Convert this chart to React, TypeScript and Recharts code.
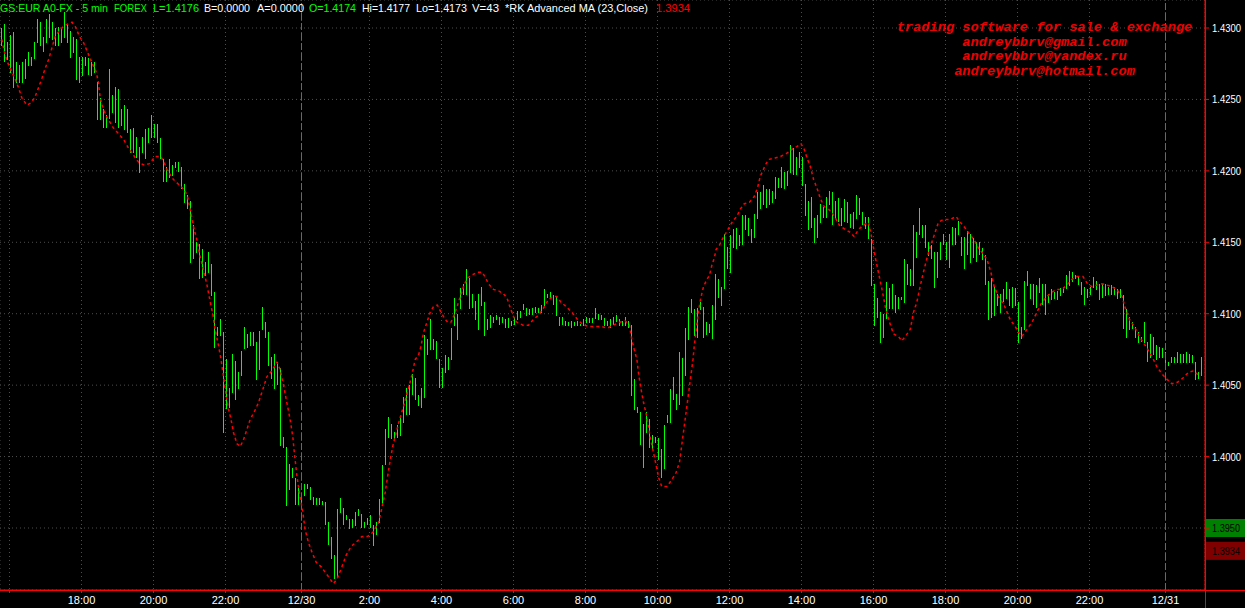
import React from 'react';
import { ComposedChart, Bar, Scatter, XAxis, YAxis, CartesianGrid, ReferenceLine } from 'recharts';

// ---- values (pips above 1.3900) ----
const BASE_PRICE = 1.39;
const PIP = 0.0001;

const barHighPips = [
  400,403,390,395,397,376,374,376,378,383,
  380,390,406,404,394,406,410,404,400,401,
  399,411,402,398,394,392,380,380,380,379,
  376,376,362,351,343,339,371,353,359,357,
  343,346,343,329,330,324,317,324,329,330,
  339,333,333,323,308,303,308,304,306,306,
  303,291,283,279,262,250,249,245,236,243,
  235,215,191,196,187,168,148,172,167,159,
  174,191,186,187,187,180,188,205,194,187,
  170,172,166,162,114,107,95,92,85,78,
  74,81,81,79,72,71,71,69,68,54,
  44,31,63,71,64,59,56,56,61,63,
  60,54,57,59,52,54,70,94,119,128,
  123,117,122,128,142,148,150,158,155,143,
  148,185,182,196,182,181,168,162,171,170,
  190,211,200,218,221,231,225,214,209,214,
  219,208,196,199,198,199,198,198,196,197,
  195,198,202,202,207,204,203,204,205,204,
  206,217,214,215,213,212,198,198,195,194,
  195,194,195,193,196,198,197,197,204,200,
  199,197,195,196,198,199,196,195,198,195,
  192,154,135,131,123,131,126,115,114,113,
  105,122,129,147,156,144,173,169,190,205,
  210,203,204,208,205,194,193,206,228,224,
  219,256,247,255,259,260,255,269,269,267,
  259,270,285,285,290,287,287,286,296,295,
  303,299,300,318,316,310,313,310,291,279,
  282,267,269,277,275,282,286,285,279,281,
  274,280,278,270,271,283,281,271,268,268,
  252,221,211,201,200,222,218,221,213,212,
  212,238,235,231,262,257,274,262,262,250,
  248,243,243,250,256,250,256,261,260,265,
  254,254,258,256,253,250,250,246,241,223,
  225,219,214,214,217,222,217,219,218,208,
  191,223,230,221,221,220,225,221,221,214,
  217,215,216,218,219,227,230,229,227,226,
  222,219,217,219,226,223,221,221,221,219,
  220,219,217,217,213,203,198,194,191,187,
  184,194,180,186,184,178,177,176,173,166,
  170,170,173,172,172,173,172,171,166,159,
  170,
];

const barLowPips = [
  388,377,378,369,359,362,362,362,365,374,
  374,379,390,388,384,390,394,392,388,388,
  390,394,390,380,383,364,362,367,374,368,
  367,369,336,336,331,331,337,341,334,331,
  332,329,327,313,313,310,299,313,309,320,
  324,324,320,309,293,293,296,297,303,300,
  288,278,274,236,239,243,225,226,227,229,
  213,177,185,185,117,134,135,145,140,148,
  157,176,177,178,178,154,161,189,184,164,
  155,148,151,108,107,66,77,86,67,67,
  67,73,78,70,67,67,67,67,53,39,
  29,15,16,61,53,56,50,51,52,59,
  51,51,53,51,38,46,54,67,95,114,
  113,112,114,115,124,130,130,144,140,136,
  135,142,172,175,175,169,149,149,159,161,
  168,192,182,204,214,214,204,205,196,189,
  206,185,189,191,194,196,193,194,191,191,
  192,193,196,198,203,199,200,200,201,201,
  201,206,212,211,207,199,192,193,192,192,
  191,192,192,192,192,194,194,194,197,196,
  196,192,192,191,193,195,192,192,192,191,
  143,133,131,109,93,117,107,105,110,98,
  86,92,124,124,140,133,137,143,157,182,
  201,185,184,203,184,186,187,183,196,212,
  206,218,232,229,247,246,248,249,259,255,
  250,254,267,274,277,275,277,278,281,289,
  289,288,290,299,298,298,303,290,269,259,
  261,250,254,264,268,268,277,263,267,265,
  262,265,264,261,260,267,270,263,260,253,
  220,192,198,180,184,197,204,204,201,204,
  210,208,221,220,220,240,256,254,247,241,
  239,219,226,238,249,238,233,249,249,256,
  241,232,242,236,240,237,242,238,221,196,
  198,199,206,201,209,211,206,205,206,180,
  183,189,220,211,207,205,215,207,200,208,
  210,211,210,213,215,218,220,223,225,221,
  214,207,212,214,219,217,210,212,213,214,
  214,214,211,212,190,184,189,190,184,180,
  181,180,167,170,172,168,170,170,164,164,
  166,166,166,166,166,166,166,166,154,155,
  157,
];

// Moving average (RK Advanced MA 23) read at points along the dashed line: bar position, pips
const maIndex = [
  0.1,1.0,2.0,3.1,4.6,5.7,6.8,8.5,10.1,11.2,12.3,13.5,14.6,15.7,16.8,17.9,19.6,21.2,23.5,24.6,
  26.0,27.3,28.7,30.1,31.6,32.3,32.9,34.0,35.3,37.3,39.0,40.7,42.3,44.0,45.7,47.6,49.3,51.2,
  53.1,54.2,55.1,57.3,59.3,60.9,62.0,62.9,64.0,65.1,66.2,67.3,68.5,69.6,70.5,71.2,72.3,73.1,73.8,74.6,
  75.5,76.5,77.3,78.5,79.6,80.7,81.8,82.9,84.2,85.7,87.1,88.5,90.1,91.8,92.9,94.0,95.1,96.2,97.1,97.6,
  98.5,99.3,100.5,101.2,102.3,103.5,104.9,106.5,107.9,109.3,110.7,112.0,113.5,114.9,116.5,118.2,120.1,122.0,123.8,125.7,
  126.8,127.9,128.7,129.6,130.5,131.6,132.7,134.0,135.3,136.8,137.9,139.0,
  139.8,140.7,141.8,142.9,144.0,145.3,146.5,147.6,148.7,149.8,150.9,152.0,153.1,154.0,155.3,156.8,158.5,160.1,161.2,162.3,
  164.0,165.7,167.3,168.5,169.6,170.7,171.8,173.8,175.7,177.3,179.0,
  180.7,182.3,184.0,185.1,186.5,188.2,190.1,192.0,194.0,196.2,198.5,200.1,202.0,204.0,206.0,207.9,209.3,210.1,210.9,211.8,
  212.3,213.1,214.0,215.1,216.2,217.3,218.2,219.1,220.1,221.8,223.5,224.9,226.0,
  230.5,230.9,231.6,232.3,233.1,234.0,234.9,236.0,236.8,237.6,238.2,239.3,240.5,241.6,242.7,243.8,245.1,246.2,247.6,249.3,
  250.9,252.0,252.9,254.6,255.7,257.9,259.6,261.6,263.5,265.1,266.5,267.6,268.5,269.6,270.7,271.8,272.9,274.2,275.7,276.8,
  278.2,279.3,
  281.2,282.9,284.2,285.7,287.3,289.0,290.1,291.2,292.3,293.5,294.6,295.7,297.3,299.0,300.1,301.6,302.9,304.0,305.1,306.2,
  307.3,308.5,309.6,310.9,312.3,314.0,316.2,318.2,319.6,321.2,322.9,324.2,325.3,326.8,328.5,329.8,330.9,332.3,334.2,336.2,
  337.9,339.0,
  340.1,341.8,343.5,345.1,346.8,348.5,350.1,351.8,353.5,355.1,356.8,358.5,360.5,362.0,363.5,365.1,366.8,368.5,370.1,371.8,
  373.5,374.6,376.0,377.6,379.6,381.8,383.5,385.1,386.8,388.5,390.1,392.0,393.8,395.7,397.3,399.0,
];

const maPips = [
  392,383,376,371,364,358,351,346,348,352,358,365,372,378,386,394,399,402,404,401,
  394,390,383,376,369,362,351,343,337,330,326,322,316,311,306,304,305,310,
  310,306,301,294,290,287,282,273,261,252,240,231,220,208,199,189,178,169,159,147,
  135,126,117,109,107,112,119,126,131,138,147,156,160,166,161,150,138,126,114,103,
  86,75,60,49,40,33,26,23,19,15,11,15,23,31,37,40,44,44,47,54,
  64,75,86,98,108,117,126,135,145,157,168,171,
  177,187,194,201,205,206,201,197,194,194,199,206,213,219,225,227,229,229,226,221,
  217,216,214,211,204,198,194,192,192,196,199,
  204,210,212,212,208,205,201,196,192,191,191,191,190,192,194,195,192,182,175,168,
  159,148,138,128,114,103,94,85,79,79,84,89,96,
  168,177,189,201,211,219,223,227,234,239,245,248,253,257,261,265,268,273,277,278,
  282,288,296,304,308,309,310,312,315,317,319,315,309,303,294,288,281,275,273,271,
  266,262,
  259,257,254,259,262,264,253,240,229,217,205,196,186,184,181,185,189,201,208,219,
  229,239,247,255,264,266,266,268,264,260,255,252,247,243,238,229,219,212,206,196,
  191,187,
  184,189,194,201,208,212,215,217,217,220,224,226,226,221,219,220,221,220,219,217,
  212,204,196,191,183,176,170,163,158,154,151,152,155,159,160,157,
];

// time axis: bar position of each time label
const timeTickIndex = [2.67, 26.67, 50.67, 74.67, 100, 122.67, 146.67, 170.67, 194.67, 218.67, 242.67, 266.67, 290.67, 314.67, 338.67, 362.67, 388];
const timeTickLabels = ['', '18:00', '20:00', '22:00', '12/30', '2:00', '4:00', '6:00', '8:00', '10:00', '12:00', '14:00', '16:00', '18:00', '20:00', '22:00', '12/31'];
const dayBreakIndex = [100, 388];

const priceTicks = [1.395, 1.4, 1.405, 1.41, 1.415, 1.42, 1.425, 1.43];
const priceDomain = [1.39066, 1.43196];
const indexDomain = [-0.5, 401.1667];

const markerPrices = [1.395, 1.3934];

const headerTexts = ['GS:EUR A0-FX - 5 min', 'FOREX', 'L=1.4176', 'B=0.0000', 'A=0.0000', 'O=1.4174', 'Hi=1.4177', 'Lo=1.4173', 'V=43', '*RK Advanced MA (23,Close)', '1.3934'];
const watermarkLines = ['trading software for sale & exchange', 'andreybbrv@gmail.com', 'andreybbrv@yandex.ru', 'andreybbrv@hotmail.com'];

// ---- styles / layout ----
const headerLeft = [0, 114, 153, 204, 257, 309, 362, 416, 472, 505, 656];
const headerWidth = [108, 33, 46, 46, 47, 47, 48, 51, 27, 143, 34];
const headerColor = ['#00ff00', '#00ff00', '#00ff00', '#ffffff', '#ffffff', '#00ff00', '#ffffff', '#ffffff', '#ffffff', '#ffffff', '#ff0000'];
const markerFill = ['#008000', '#800000'];

const toPrice = (p: number) => Math.round((BASE_PRICE + p * PIP) * 100000) / 100000;

const nBars = Math.min(barHighPips.length, barLowPips.length);
const barRows = Array.from({ length: nBars }, (_, i) => ({
  idx: i,
  range: [toPrice(barLowPips[i]), toPrice(barHighPips[i])],
}));
const nMa = Math.min(maIndex.length, maPips.length);
const maRows = Array.from({ length: nMa }, (_, j) => ({ t: maIndex[j], ma: toPrice(maPips[j]) }));

const SANS = '"Liberation Sans", Arial, sans-serif';

const OhlcShape = (props: any) => {
  const { x, y, width, height } = props;
  if (![x, y, width, height].every((v) => typeof v === 'number' && isFinite(v))) return <g />;
  const cx = Math.floor(x + width / 2) + 0.5;
  const top = Math.min(y, y + height);
  const bottom = Math.max(y, y + height);
  return <line x1={cx} x2={cx} y1={top} y2={bottom + 1} stroke="#00ff00" strokeWidth={1} shapeRendering="crispEdges" />;
};

const TimeTick = (props: any) => {
  const { x, y, payload } = props;
  const i = timeTickIndex.indexOf(payload.value);
  const label = i >= 0 ? timeTickLabels[i] : '';
  return (
    <text x={x} y={y} dy={9} textAnchor="middle" fill="#ffffff" fontSize={11} fontFamily={SANS}>
      {label}
    </text>
  );
};

const PriceTick = (props: any) => {
  const { x, y, payload } = props;
  if (payload.value === markerPrices[0]) return <g />;
  return (
    <text x={x} y={y} dy={4} textAnchor="start" fill="#ffffff" fontSize={10.5} fontFamily={SANS} textLength={29} lengthAdjust="spacingAndGlyphs">
      {Number(payload.value).toFixed(4)}
    </text>
  );
};

const PriceTag = (props: any) => {
  const { viewBox, text, fill } = props;
  if (!viewBox) return null;
  const right = viewBox.x + viewBox.width;
  const y = viewBox.y;
  return (
    <g>
      <rect x={right + 1} y={y - 9} width={39} height={18} fill={fill} />
      <text x={right + 7} y={y + 4} fill="#000000" fontSize={10.5} fontFamily={SANS} textLength={28} lengthAdjust="spacingAndGlyphs">
        {text}
      </text>
    </g>
  );
};

export default function App() {
  return (
    <div style={{ position: 'absolute', left: 0, top: 0, width: 1245, height: 608, background: '#000', overflow: 'hidden' }}>
      <ComposedChart width={1245} height={608} data={barRows} margin={{ top: 0, right: 0, bottom: 0, left: 0 }}>
        <CartesianGrid xAxisId="time" stroke="#4d4d4d" strokeDasharray="1 3" />
        <XAxis xAxisId="bars" dataKey="idx" type="category" hide orientation="top" height={0} padding={{ left: 0, right: 2 }} />
        <XAxis
          xAxisId="time"
          dataKey="t"
          type="number"
          orientation="bottom"
          domain={indexDomain}
          allowDataOverflow
          ticks={timeTickIndex}
          interval={0}
          height={18}
          axisLine={{ stroke: '#ff0000' }}
          tickLine={{ stroke: '#ff0000' }}
          tickSize={3}
          tick={<TimeTick />}
        />
        <YAxis
          orientation="right"
          type="number"
          width={40}
          domain={priceDomain}
          allowDataOverflow
          ticks={priceTicks}
          interval={0}
          axisLine={{ stroke: '#ff0000' }}
          tickLine={{ stroke: '#ff0000' }}
          tickSize={4}
          tickMargin={3}
          tick={<PriceTick />}
        />
        {dayBreakIndex.map((d) => (
          <ReferenceLine key={d} xAxisId="time" x={d} stroke="#6a6a6a" strokeDasharray="7 3" />
        ))}
        <Bar xAxisId="bars" dataKey="range" isAnimationActive={false} shape={(p: any) => <OhlcShape {...p} />} />
        <Scatter
          xAxisId="time"
          data={maRows}
          dataKey="ma"
          isAnimationActive={false}
          line={{ stroke: '#ff0000', strokeWidth: 1.5, strokeDasharray: '3 3' }}
          lineType="joint"
          shape={() => <g />}
        />
        {markerPrices.map((p, i) => (
          <ReferenceLine
            key={p}
            xAxisId="time"
            y={p}
            stroke="none"
            ifOverflow="visible"
            label={<PriceTag text={p.toFixed(4)} fill={markerFill[i]} />}
          />
        ))}
      </ComposedChart>

      {/* axis lines extended across the full frame */}
      <div style={{ position: 'absolute', left: 0, top: 590, width: 1245, height: 1, background: '#ff0000' }} />
      <div style={{ position: 'absolute', left: 1205, top: 0, width: 1, height: 608, background: '#ff0000' }} />

      {/* header */}
      <svg width={700} height={16} style={{ position: 'absolute', left: 0, top: 0 }}>
        {headerTexts.map((t, i) => (
          <text
            key={i}
            x={headerLeft[i]}
            y={12}
            fill={headerColor[i]}
            fontSize={11}
            fontFamily={SANS}
            textLength={headerWidth[i]}
            lengthAdjust="spacingAndGlyphs"
          >
            {t}
          </text>
        ))}
      </svg>

      {/* watermark */}
      <div
        style={{
          position: 'absolute',
          left: 894,
          top: 21,
          width: 301,
          textAlign: 'center',
          fontFamily: '"Liberation Mono", "Courier New", monospace',
          fontWeight: 'bold',
          fontStyle: 'italic',
          fontSize: '13.7px',
          lineHeight: '14.5px',
          color: '#ee0000',
          whiteSpace: 'pre',
        }}
      >
        {watermarkLines.map((l, i) => (
          <div key={i}>{l}</div>
        ))}
      </div>
    </div>
  );
}
